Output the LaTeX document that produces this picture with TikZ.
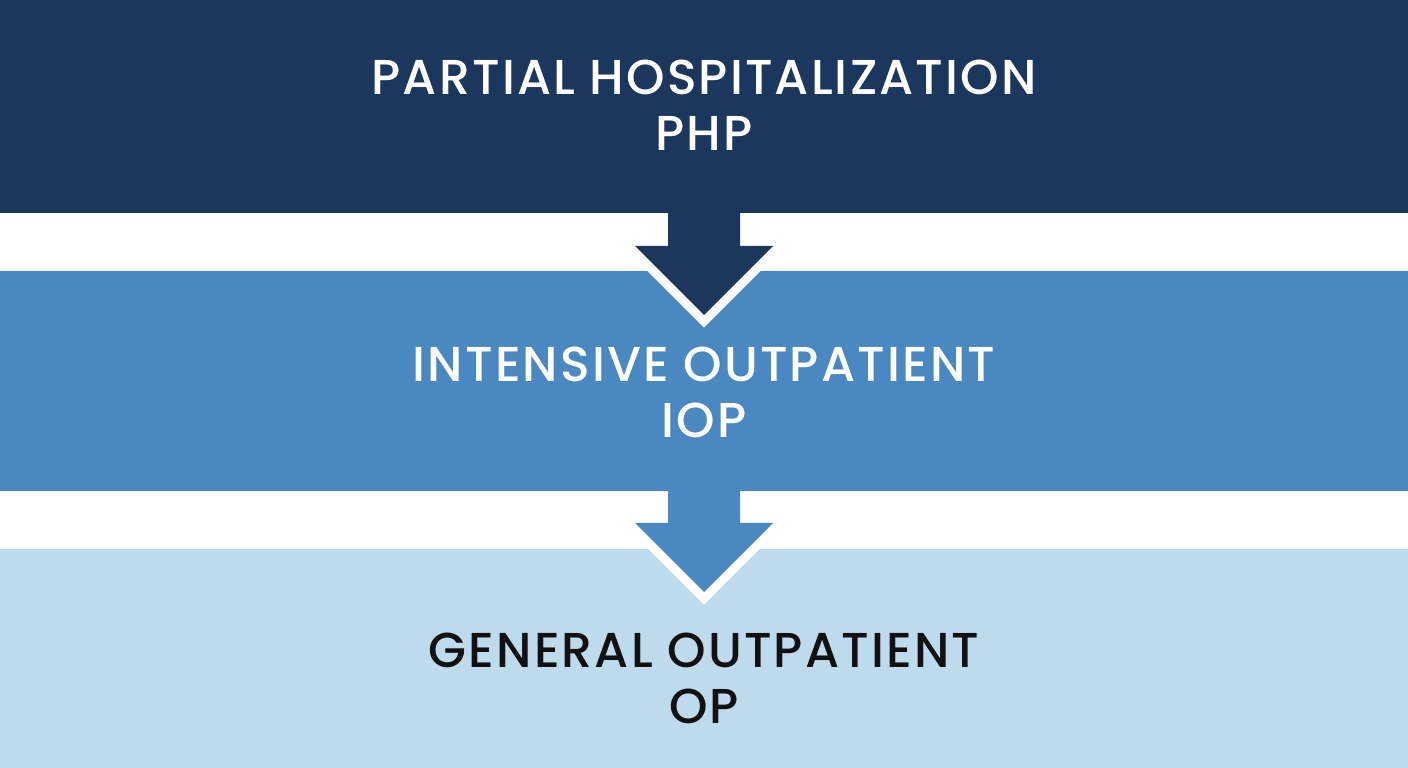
\documentclass[tikz,border=0pt]{standalone}
\usepackage{fontspec}
\setmainfont{Poppins}[UprightFont=* Medium, LetterSpace=4.3]
\definecolor{navy}{HTML}{1B375D}
\definecolor{midblue}{HTML}{4A88C1}
\definecolor{lightblue}{HTML}{BEDBEE}
\definecolor{ink}{HTML}{111111}
\tikzset{
  band/.style={minimum width=1408pt, inner sep=0pt, outer sep=0pt},
  label/.style={align=center, font=\fontsize{49}{56}\selectfont, inner sep=0pt},
  halo/.style={draw=white, line width=18pt, line join=miter},
}
\begin{document}
\begin{tikzpicture}[x=1pt,y=1pt]
\useasboundingbox (0,0) rectangle (1408,768);
\fill[white] (0,0) rectangle (1408,768);
\node[band, fill=navy, minimum height=213pt] (php) at (704,661.5) {};
\node[band, fill=midblue, minimum height=220pt] (iop) at (704,387) {};
\node[band, fill=lightblue, minimum height=219pt] (op) at (704,109.5) {};
\node[label, text=white] (phpt) at (704,663) {PARTIAL HOSPITALIZATION\\PHP};
\node[label, text=white] (iopt) at (704,376) {INTENSIVE OUTPATIENT\\IOP};
\node[label, text=ink] (opt) at (704,90) {GENERAL OUTPATIENT\\OP};
% arrow 1
\coordinate (a1) at (php.south);
\draw[halo] ([xshift=-69pt,yshift=-33pt]a1) -- ([yshift=-102pt]a1) -- ([xshift=69pt,yshift=-33pt]a1) -- cycle;
\fill[navy] ([xshift=-36pt,yshift=1pt]a1) -- ([xshift=-36pt,yshift=-33pt]a1) -- ([xshift=-69pt,yshift=-33pt]a1) -- ([yshift=-102pt]a1) -- ([xshift=69pt,yshift=-33pt]a1) -- ([xshift=36pt,yshift=-33pt]a1) -- ([xshift=36pt,yshift=1pt]a1) -- cycle;
% arrow 2
\coordinate (a2) at (iop.south);
\draw[halo] ([xshift=-69pt,yshift=-32pt]a2) -- ([yshift=-101pt]a2) -- ([xshift=69pt,yshift=-32pt]a2) -- cycle;
\fill[midblue] ([xshift=-36pt,yshift=1pt]a2) -- ([xshift=-36pt,yshift=-32pt]a2) -- ([xshift=-69pt,yshift=-32pt]a2) -- ([yshift=-101pt]a2) -- ([xshift=69pt,yshift=-32pt]a2) -- ([xshift=36pt,yshift=-32pt]a2) -- ([xshift=36pt,yshift=1pt]a2) -- cycle;
\end{tikzpicture}
\end{document}
